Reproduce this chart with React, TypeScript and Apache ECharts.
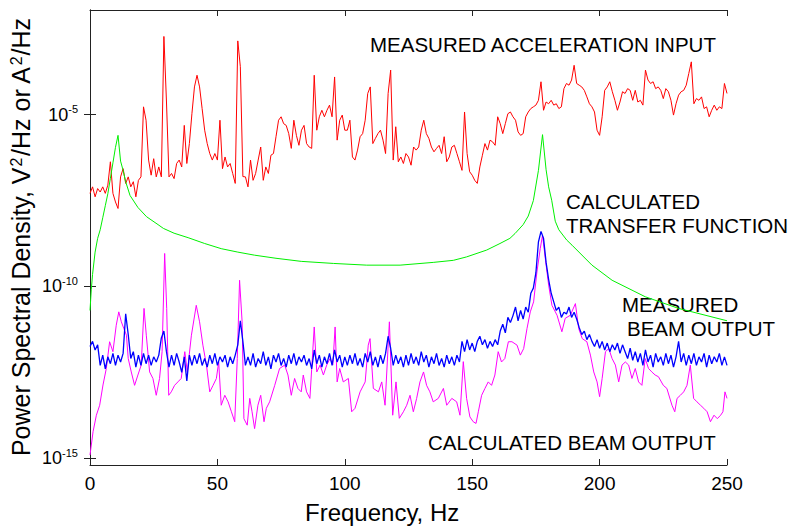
import React, { useEffect, useRef } from "react";
import * as echarts from "echarts";

// Frequency bins (Hz) for the 1-Hz sampled series
const freqHz: number[] = Array.from({ length: 251 }, (_, i) => i);

// log10 of PSD, measured acceleration input (red), one value per Hz 0..250
const accelInputLog10: number[] = [
  -7.29, -7.10, -7.39, -7.15, -7.25, -7.10, -7.29, -7.05, -6.37, -7.29,
  -7.54, -7.73, -6.81, -6.57, -7.00, -6.81, -7.10, -6.95, -7.39, -6.91,
  -6.81, -4.77, -5.16, -6.32, -6.76, -6.28, -6.81, -6.52, -6.81, -2.72,
  -4.60, -6.81, -6.71, -6.86, -6.42, -6.32, -6.52, -5.31, -6.42, -5.84,
  -4.97, -4.19, -3.85, -4.19, -4.82, -5.45, -5.84, -6.13, -6.32, -6.13,
  -6.32, -5.16, -6.57, -6.23, -6.52, -6.42, -6.71, -7.00, -2.85, -3.60,
  -6.80, -6.81, -7.10, -6.32, -6.91, -6.71, -6.32, -5.94, -6.91, -6.52,
  -6.71, -6.18, -6.13, -5.64, -5.16, -5.06, -5.26, -5.31, -5.55, -5.98,
  -5.16, -5.60, -5.89, -5.45, -5.31, -5.84, -5.94, -5.98, -3.85, -5.45,
  -5.06, -4.87, -5.06, -4.87, -4.72, -5.06, -3.90, -5.74, -5.16, -5.01,
  -5.45, -5.45, -5.16, -6.23, -6.32, -6.03, -5.64, -5.55, -5.16, -4.38,
  -4.19, -5.84, -5.69, -5.55, -5.45, -5.74, -6.13, -4.38, -3.70, -6.32,
  -5.35, -6.37, -6.23, -6.42, -6.13, -6.23, -6.47, -5.94, -6.03, -5.94,
  -5.45, -5.16, -5.55, -5.69, -5.94, -6.08, -5.98, -5.89, -6.13, -5.64,
  -6.37, -6.23, -5.94, -5.89, -6.13, -6.37, -6.62, -4.92, -6.13, -6.66,
  -6.76, -6.91, -7.00, -6.52, -6.18, -5.84, -6.03, -5.74, -5.79, -5.89,
  -5.06, -5.26, -5.55, -5.26, -4.97, -4.92, -5.06, -5.16, -5.50, -5.60,
  -5.55, -5.06, -4.92, -4.82, -4.77, -4.72, -4.58, -4.04, -4.87, -4.63,
  -4.68, -4.58, -4.72, -4.68, -4.82, -4.77, -4.24, -4.09, -4.14, -3.99,
  -3.56, -4.09, -4.14, -4.19, -4.29, -4.48, -4.68, -4.77, -4.92, -5.45,
  -5.60, -5.06, -4.29, -4.19, -4.04, -4.33, -4.58, -4.87, -4.63, -4.33,
  -4.38, -4.24, -4.29, -4.58, -4.29, -4.63, -4.58, -4.72, -3.70, -3.99,
  -4.09, -4.04, -4.24, -4.19, -4.29, -4.53, -4.24, -4.33, -4.58, -5.01,
  -4.68, -4.43, -4.33, -4.29, -4.14, -3.80, -3.46, -4.68, -4.53, -4.58,
  -4.48, -4.82, -4.77, -5.06, -4.87, -4.72, -4.87, -4.77, -4.82, -4.09,
  -4.38,
];

// log10 of PSD, measured beam output (blue), one value per Hz 0..250
const beamMeasuredLog10: number[] = [
  -11.75, -11.6, -11.85, -11.7, -12.3, -12.0, -12.4, -12.05, -12.25, -11.95,
  -12.3, -12.0, -12.2, -11.95, -10.8, -11.4, -12.1, -11.9, -12.35, -12.0,
  -12.3, -11.95, -12.25, -12.0, -12.3, -12.05, -12.2, -12.0, -11.5, -11.3,
  -11.9, -12.35, -12.0, -12.3, -11.95, -12.2, -12.5, -12.05, -12.75, -12.0,
  -12.3, -12.0, -12.25, -11.95, -12.3, -12.1, -12.35, -12.0, -12.25, -11.95,
  -12.3, -12.05, -12.2, -12.0, -12.35, -12.05, -12.25, -12.0, -11.7, -11.0,
  -11.6, -12.3, -12.05, -12.3, -11.95, -12.35, -12.1, -12.25, -11.9, -12.3,
  -12.05, -12.4, -12.0, -12.2, -11.95, -12.3, -12.1, -12.35, -12.0, -12.25,
  -11.95, -12.3, -12.05, -12.2, -12.0, -12.3, -12.1, -12.4, -11.85, -12.25,
  -12.0, -12.35, -12.05, -12.25, -11.95, -12.3, -11.85, -12.2, -12.0, -12.35,
  -12.05, -12.3, -12.0, -12.25, -11.95, -12.3, -12.1, -12.35, -11.95, -12.2,
  -11.9, -12.3, -12.05, -12.35, -12.0, -12.25, -11.95, -11.45, -11.8, -12.3,
  -12.0, -12.25, -12.05, -12.35, -12.0, -12.3, -11.95, -12.25, -12.05, -12.3,
  -11.9, -12.2, -12.0, -12.35, -12.05, -12.25, -11.95, -12.3, -12.1, -12.35,
  -12.0, -12.25, -12.05, -12.3, -12.0, -12.2, -11.6, -11.9, -11.55, -11.85,
  -11.65, -11.9, -11.6, -11.45, -11.7, -11.55, -11.8, -11.6, -11.75, -11.55,
  -11.7, -11.3, -11.1, -11.35, -10.9, -11.05, -10.85, -10.6, -11.0, -10.7,
  -10.95, -10.6, -10.75, -10.2, -10.05, -9.6, -8.7, -8.4, -8.6, -9.3,
  -9.8, -10.2, -10.45, -10.7, -10.6, -10.9, -10.75, -10.8, -10.6, -10.9,
  -10.75, -10.95, -11.2, -11.4, -11.3, -11.55, -11.4, -11.6, -11.75, -11.55,
  -11.8, -11.6, -11.85, -11.65, -11.9, -11.7, -11.85, -11.65, -11.95, -11.7,
  -11.9, -12.1, -11.8, -12.15, -11.9, -12.2, -11.95, -12.3, -11.85, -12.2,
  -12.0, -12.35, -11.95, -12.2, -12.05, -12.3, -11.95, -12.25, -12.0, -12.35,
  -12.05, -11.6, -12.2, -11.95, -12.3, -12.0, -12.25, -11.95, -12.3, -12.05,
  -12.2, -11.95, -12.35, -12.0, -12.25, -12.05, -12.2, -11.95, -12.3, -12.05,
  -12.3,
];

// Calculated transfer function (green): frequency (Hz) and log10 value
const transferFreq: number[] = [
  0, 0.5, 1, 2, 3, 4, 5, 6, 7, 8, 9, 10, 11, 12, 13, 14, 15.7, 18.8, 22.2,
  26.7, 28.8, 33, 38.5, 45, 51.5, 58, 64.6, 73, 82.9, 95.5, 108.6, 121.7,
  134.7, 142.6, 147.8, 155.7, 160.9, 164.8, 166.8, 170, 172, 174, 176, 177.6,
  179, 180, 181.2, 182.6, 184, 187.1, 189.2, 197, 204.9, 217.9, 231, 250,
];
const transferLog10: number[] = [
  -10.7, -10.1, -9.65, -9.0, -8.6, -8.35, -8.0, -7.65, -7.3, -6.85, -6.4,
  -5.95, -5.6, -6.35, -6.62, -6.95, -7.35, -7.7, -7.97, -8.2, -8.31, -8.45,
  -8.58, -8.75, -8.9, -9.0, -9.09, -9.18, -9.27, -9.33, -9.38, -9.38, -9.3,
  -9.24, -9.14, -8.94, -8.75, -8.6, -8.46, -8.2, -7.95, -7.5, -6.62, -5.58,
  -6.6, -7.1, -7.49, -8.1, -8.35, -8.65, -8.8, -9.38, -9.82, -10.3, -10.64,
  -11.0,
];

// Calculated beam output (magenta): frequency (Hz) and log10 value
const beamCalcFreq: number[] = [
  0, 1.2, 2.5, 3.8, 5.1, 6.4, 7.7, 9, 10.3, 11.3, 12.3, 13.3, 14.3, 15, 16.2,
  17.5, 18.8, 20.1, 21.2, 22.1, 23.4, 24.7, 26, 27.3, 28.3, 29.3, 30.1, 30.9,
  31.9, 33.2, 34.5, 35.8, 37.2, 38.2, 39.8, 41.7, 43, 44.3, 45.7, 47, 48.3,
  49.6, 50.5, 51.5, 52.9, 54.2, 55.5, 56.8, 57.8, 58.7, 59.7, 60.4, 61.7,
  62.7, 63.6, 64.6, 65.9, 67, 68.3, 69.2, 70.5, 72.5, 74.4, 76.4, 77.7, 79,
  80.3, 81.6, 82.9, 83.7, 85, 86.3, 88, 89, 90.3, 91.6, 92.9, 94.2, 95.3,
  96.2, 97, 98, 99.4, 101.4, 102.7, 104, 106, 108, 109.2, 109.9, 111.2,
  113.2, 114.5, 115.8, 117.5, 118.8, 120.1, 121.4, 123, 124.3, 125.6, 126.9,
  128.2, 129.5, 130.9, 132.1, 133.4, 134.7, 136.7, 138.7, 140, 142, 143.9,
  145.2, 146.5, 147.8, 149.1, 150.4, 151.5, 152.4, 153.7, 155, 156.3, 157.6,
  158.9, 160.2, 161.5, 162.8, 164.2, 165.6, 167.6, 168.9, 170.2, 171.5,
  172.8, 174.1, 175.4, 176.7, 177.6, 178.7, 180, 181.3, 183.3, 185.2, 186.5,
  188.5, 190.5, 191.8, 193.2, 195, 196.4, 197.7, 199, 200, 201, 202.3, 203.6,
  204.9, 206.2, 207.5, 208.8, 210.1, 211.4, 212.7, 214, 215.3, 216.6, 217.9,
  219.2, 220.5, 221.8, 223.1, 225, 226.4, 228.4, 229.5, 230.4, 231.7, 233,
  234.3, 235.6, 236.9, 238.2, 239.6, 240.9, 242.2, 243.5, 244.9, 246.2,
  247.5, 248.4, 249.2, 250,
];
const beamCalcLog10: number[] = [
  -14.91, -14.23, -13.75, -13.46, -12.87, -12.39, -11.61, -11.9, -11.13,
  -10.74, -11.03, -11.23, -11.42, -12.1, -12.49, -12.88, -12.58, -12.29,
  -10.64, -11.42, -12.49, -12.68, -13.17, -12.68, -11.9, -9.04, -10.64,
  -13.17, -13.07, -12.88, -12.78, -12.68, -11.9, -12.49, -11.42, -10.55,
  -11.03, -11.71, -12.29, -13.07, -12.88, -12.68, -12.2, -13.46, -13.17,
  -13.36, -13.65, -13.94, -12.1, -9.82, -11.03, -13.85, -14.04, -13.26,
  -13.65, -14.14, -13.46, -13.17, -13.94, -13.55, -13.36, -12.88, -12.39,
  -12.29, -12.58, -13.17, -12.68, -12.97, -13.07, -12.58, -13.07, -13.26,
  -11.18, -12.49, -12.29, -12.58, -12.29, -12.1, -12.29, -11.18, -12.78,
  -12.39, -12.78, -12.68, -13.65, -13.55, -13.07, -12.78, -11.71, -11.52,
  -12.97, -13.07, -12.78, -13.46, -11.03, -13.75, -12.78, -13.84, -13.65,
  -13.46, -13.17, -13.65, -13.26, -12.78, -12.49, -12.88, -13.07, -13.36,
  -13.26, -12.97, -13.46, -13.26, -13.36, -13.75, -12.19, -13.26, -13.8,
  -13.94, -13.99, -13.65, -13.17, -12.97, -12.78, -12.88, -12.58, -11.9,
  -12.2, -12.1, -11.61, -11.61, -11.71, -12.0, -11.81, -11.23, -10.74,
  -10.45, -9.58, -8.9, -8.51, -9.19, -9.96, -10.55, -10.84, -11.32, -10.93,
  -10.84, -10.5, -11.23, -11.52, -11.61, -12.0, -12.49, -12.78, -13.21,
  -12.68, -11.9, -11.81, -12.1, -12.29, -12.78, -12.29, -12.2, -12.29,
  -12.68, -12.39, -12.78, -12.88, -12.1, -12.39, -12.49, -12.58, -12.63,
  -12.88, -12.97, -13.46, -13.65, -13.26, -13.17, -13.07, -12.88, -12.29,
  -13.26, -13.36, -13.46, -13.55, -13.65, -13.94, -13.75, -13.85, -13.75,
  -13.65, -13.07, -13.26,
];

// Axis ticks (log10 exponents)
const yTickExponents: number[] = [-15, -10, -5];
const yMinExp = -15.2;
const yMaxExp = -1.95;

const FONT = '"Liberation Sans", Arial, Helvetica, sans-serif';

export default function App() {
  const ref = useRef<HTMLDivElement>(null);

  useEffect(() => {
    if (!ref.current) return;
    const chart = echarts.init(ref.current, undefined, { renderer: "svg" });

    const pairs = (xs: number[], ys: number[]) => xs.map((x, i) => [x, ys[i]]);

    const lineSeries = (name: string, data: number[][], color: string, width = 1) => ({
      name,
      type: "line",
      data,
      xAxisIndex: 0,
      yAxisIndex: 0,
      showSymbol: false,
      symbol: "none",
      smooth: false,
      clip: true,
      lineStyle: { color, width },
      emphasis: { disabled: true },
    });

    const txt = (text: string, x: number, y: number, size = 20.5) => ({
      type: "text",
      x,
      y,
      silent: true,
      style: {
        text,
        fill: "#000",
        font: `${size}px ${FONT}`,
        fontSize: size,
        fontFamily: FONT,
        textAlign: "left",
        textVerticalAlign: "middle",
        align: "left",
        verticalAlign: "middle",
      },
    });

    const tickCommon = {
      show: true,
      inside: true,
      length: 6,
      lineStyle: { color: "#222", width: 1 },
    };
    const axisLineCommon = { show: true, lineStyle: { color: "#222", width: 1 } };

    chart.setOption({
      animation: false,
      backgroundColor: "#fff",
      grid: { left: 90, right: 61, top: 10, bottom: 61, containLabel: false },
      xAxis: [
        {
          type: "value",
          min: 0,
          max: 250,
          interval: 50,
          position: "bottom",
          axisLine: axisLineCommon,
          axisTick: tickCommon,
          splitLine: { show: false },
          axisLabel: {
            color: "#000",
            fontSize: 19,
            fontFamily: FONT,
            margin: 9,
          },
        },
        {
          type: "value",
          min: 0,
          max: 250,
          interval: 50,
          position: "top",
          axisLine: axisLineCommon,
          axisTick: tickCommon,
          splitLine: { show: false },
          axisLabel: { show: false },
        },
      ],
      yAxis: [
        {
          type: "value",
          min: yMinExp,
          max: yMaxExp,
          position: "left",
          axisLine: axisLineCommon,
          axisTick: { ...tickCommon, customValues: yTickExponents },
          splitLine: { show: false },
          axisLabel: {
            customValues: yTickExponents,
            margin: 12,
            formatter: (v: number) => `{b|10}{s|${v}}`,
            rich: {
              b: { fontSize: 18, fontFamily: FONT, color: "#000", lineHeight: 22 },
              s: {
                fontSize: 11,
                fontFamily: FONT,
                color: "#000",
                verticalAlign: "top",
                lineHeight: 22,
                padding: [0, 0, 10, 0],
              },
            },
          },
        },
        {
          type: "value",
          min: yMinExp,
          max: yMaxExp,
          position: "right",
          axisLine: axisLineCommon,
          axisTick: { ...tickCommon, customValues: yTickExponents },
          splitLine: { show: false },
          axisLabel: { show: false },
        },
      ],
      series: [
        lineSeries("Measured acceleration input", pairs(freqHz, accelInputLog10), "#ff0000"),
        lineSeries("Calculated transfer function", pairs(transferFreq, transferLog10), "#00f000"),
        lineSeries("Calculated beam output", pairs(beamCalcFreq, beamCalcLog10), "#ff00ff"),
        lineSeries("Measured beam output", pairs(freqHz, beamMeasuredLog10), "#0000ff", 1.3),
      ],
      graphic: [
        txt("MEASURED ACCELERATION INPUT", 370, 44),
        txt("CALCULATED", 566, 201),
        txt("TRANSFER FUNCTION", 566, 225),
        txt("MEASURED", 622, 304),
        txt("BEAM OUTPUT", 627, 328),
        txt("CALCULATED BEAM OUTPUT", 428, 442),
        txt("Frequency, Hz", 305, 512, 24),
        {
          type: "text",
          x: 21,
          y: 237,
          rotation: Math.PI / 2,
          silent: true,
          style: {
            text: "Power Spectral Density, V{sup|2}/Hz or A{sup|2}/Hz",
            fill: "#000",
            font: `25px ${FONT}`,
            fontSize: 25,
            fontFamily: FONT,
            textAlign: "center",
            textVerticalAlign: "middle",
            align: "center",
            verticalAlign: "middle",
            rich: {
              sup: {
                fontSize: 16,
                fontFamily: FONT,
                fill: "#000",
                verticalAlign: "top",
                padding: [0, 1, 10, 1],
              },
            },
          },
        },
      ],
    });

    return () => chart.dispose();
  }, []);

  return (
    <div
      ref={ref}
      style={{ position: "fixed", left: 0, top: 0, width: 788, height: 526 }}
    />
  );
}
